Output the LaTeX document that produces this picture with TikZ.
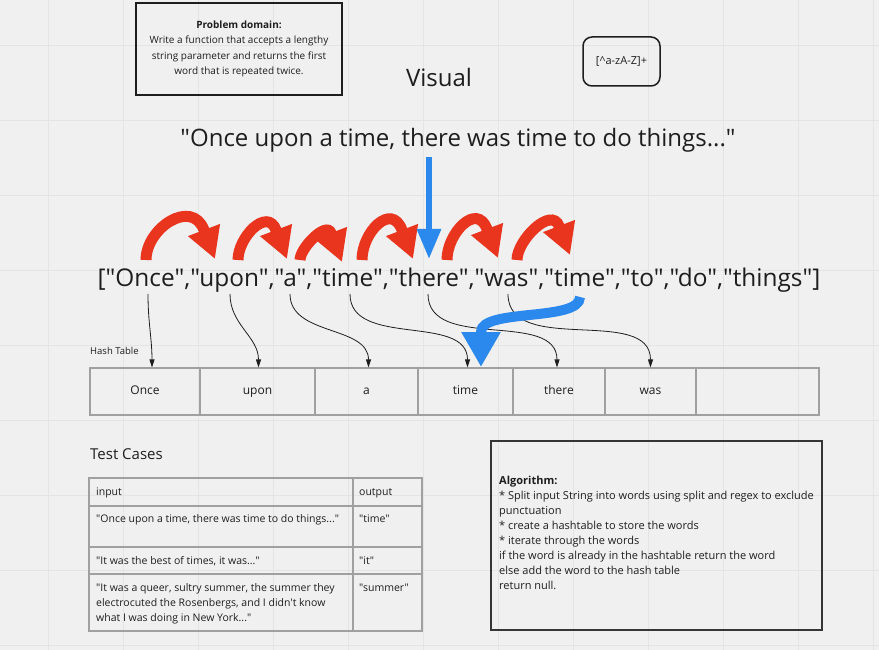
\documentclass[tikz,border=0pt]{standalone}
\usepackage{fontspec}
\setmainfont{Open Sans}[Ligatures=TeXOff]
\usetikzlibrary{arrows.meta, positioning, calc}
\definecolor{boardbg}{RGB}{240,240,240}
\definecolor{boardgrid}{RGB}{228,228,228}
\definecolor{hopred}{RGB}{233,52,30}
\definecolor{lookblue}{RGB}{43,137,237}
\definecolor{cellline}{RGB}{160,160,160}
\definecolor{inkgray}{RGB}{30,30,30}
\tikzset{
  note/.style     = {draw=inkgray, line width=1.5pt, align=center, inner sep=4pt,
                     font=\fontsize{10}{15.3}\selectfont},
  regexbox/.style = {draw=inkgray, line width=1.5pt, rounded corners=9pt,
                     minimum width=77pt, minimum height=49pt, inner sep=0pt,
                     font=\fontsize{11}{13}\selectfont},
  algobox/.style  = {draw=inkgray!90, line width=2pt, minimum width=331pt,
                     minimum height=189pt, inner sep=0pt},
  plain/.style    = {align=left, inner sep=0pt, font=\fontsize{10.5}{15}\selectfont},
  cell/.style     = {draw=cellline, line width=1.2pt, minimum height=47pt, inner sep=0pt,
                     text height=9pt, text depth=2.5pt, font=\fontsize{12}{14}\selectfont},
  hop/.style      = {line width=11pt, draw=hopred, -{Triangle[length=31pt,width=32pt]}},
  look/.style     = {draw=lookblue},
  feed/.style     = {-{Triangle[length=8pt,width=5pt]}, line width=0.8pt, draw=inkgray,
                     out=-90, in=90}
}
\begin{document}
\begin{tikzpicture}[x=1pt, y=1pt, inkgray]
\useasboundingbox (0,0) rectangle (879,-650);
% Board and grid
\fill[boardbg] (0,0) rectangle (879,-650);
\foreach \x in {48,123,...,873} \draw[boardgrid, line width=0.8pt] (\x,0) -- (\x,-650);
\foreach \y in {45,120,...,645} \draw[boardgrid, line width=0.8pt] (0,-\y) -- (879,-\y);

% Header notes
\node[note, minimum width=206pt, minimum height=92pt] (prob) at (239,-49)
  {\textbf{Problem domain:}\\Write a function that accepts a lengthy\\string parameter and returns the first\\word that is repeated twice.};
\node[regexbox] (rgx) at (621.5,-61.5) {[\textasciicircum a-zA-Z]+};
\node[font=\fontsize{24}{28}\selectfont] (vis) at (439,-78) {Visual};
\node[anchor=base, font=\fontsize{24}{28}\selectfont] (sent) at (458,-147)
  {"Once upon a time, there was time to do things..."};
\node[anchor=base, font=\fontsize{24.4}{30}\selectfont] (arr) at (459,-287)
  {["Once","upon","a","time","there","was","time","to","do","things"]};

% Hash table
\node[anchor=base west, inner sep=0pt, font=\fontsize{9.5}{11}\selectfont] (hashlbl) at (90,-354) {Hash Table};
\foreach \a/\b/\word [count=\i] in {90/200/Once, 200/315/upon, 315/418/a, 418/513/time,
                                    513/605/there, 605/696/was, 696/819/{}} {
  \node[cell, minimum width=\b pt-\a pt] (c\i) at ({(\a+\b)/2},-391.5) {\word};
}

% Words dropped into the table
\foreach \s/\c/\d in {148/1/7, 230/2/1, 290/3/2, 350/4/2, 428/5/-2, 508/6/0} {
  \coordinate (src\c) at (\s,-294);
  \draw[feed] (src\c) to ([xshift=\d pt]c\c.north);
}

% Red hops over the words
\foreach \a/\b/\t/\h [count=\i] in {146/215/259/32, 238/287/259/23, 300/342/262/12,
                                    362/413/259/28, 447/498/258/27, 517/570/255/20} {
  \coordinate (hop\i) at (\a,-260);
  \coordinate (land\i) at (\b,-\t);
  \draw[hop] (hop\i) .. controls (\a,{-260+\h}) and ({\b-11-0.38*\h},{-\t+29+\h})
    .. ({\b-11},{-\t+29}) -- (land\i);
}

% Blue lookups
\coordinate (drop) at (429,-157);
\coordinate (dropend) at (429,-259);
\draw[look, line width=6pt, -{Triangle[length=30pt,width=23pt]}] (drop) -- (dropend);
\coordinate (dup) at (580,-297);
\coordinate (dupend) at (481,-367);
\draw[look, line width=10pt, -{Triangle[length=35pt,width=37pt]}]
  (dup) .. controls (580,-322) and (481,-308) .. (481,-332) -- (dupend);

% Test cases
\node[anchor=base west, inner sep=0pt, font=\fontsize{15}{18}\selectfont] (tclbl) at (90,-459) {Test Cases};
\draw[cellline, line width=1.2pt] (89,-478) rectangle (422,-631);
\foreach \y in {506,547,574} \draw[cellline, line width=1.2pt] (89,-\y) -- (422,-\y);
\draw[cellline, line width=1.2pt] (353,-478) -- (353,-631);
\node[plain, anchor=base west] (in0) at (96,-495) {input};
\node[plain, anchor=base west] (out0) at (359,-495) {output};
\node[plain, anchor=base west] (in1) at (96,-522) {"Once upon a time, there was time to do things..."};
\node[plain, anchor=base west] (out1) at (359,-522) {"time"};
\node[plain, anchor=base west] (in2) at (96,-564) {"It was the best of times, it was..."};
\node[plain, anchor=base west] (out2) at (359,-564) {"it"};
\node[plain, anchor=north west] (in3) at (96,-583)
  {"It was a queer, sultry summer, the summer they\\electrocuted the Rosenbergs, and I didn't know\\what I was doing in New York..."};
\node[plain, anchor=base west] (out3) at (359,-591) {"summer"};

% Algorithm
\node[algobox] (algo) at (656.5,-535.5) {};
\node[plain, anchor=north west, font=\fontsize{11}{15}\selectfont] (algotxt)
  at ([xshift=9pt,yshift=-36pt]algo.north west)
  {\textbf{Algorithm:}\\
   * Split input String into words using split and regex to exclude\\
   punctuation\\
   * create a hashtable to store the words\\
   * iterate through the words\\
   if the word is already in the hashtable return the word\\
   else add the word to the hash table\\
   return null.};
\end{tikzpicture}
\end{document}
